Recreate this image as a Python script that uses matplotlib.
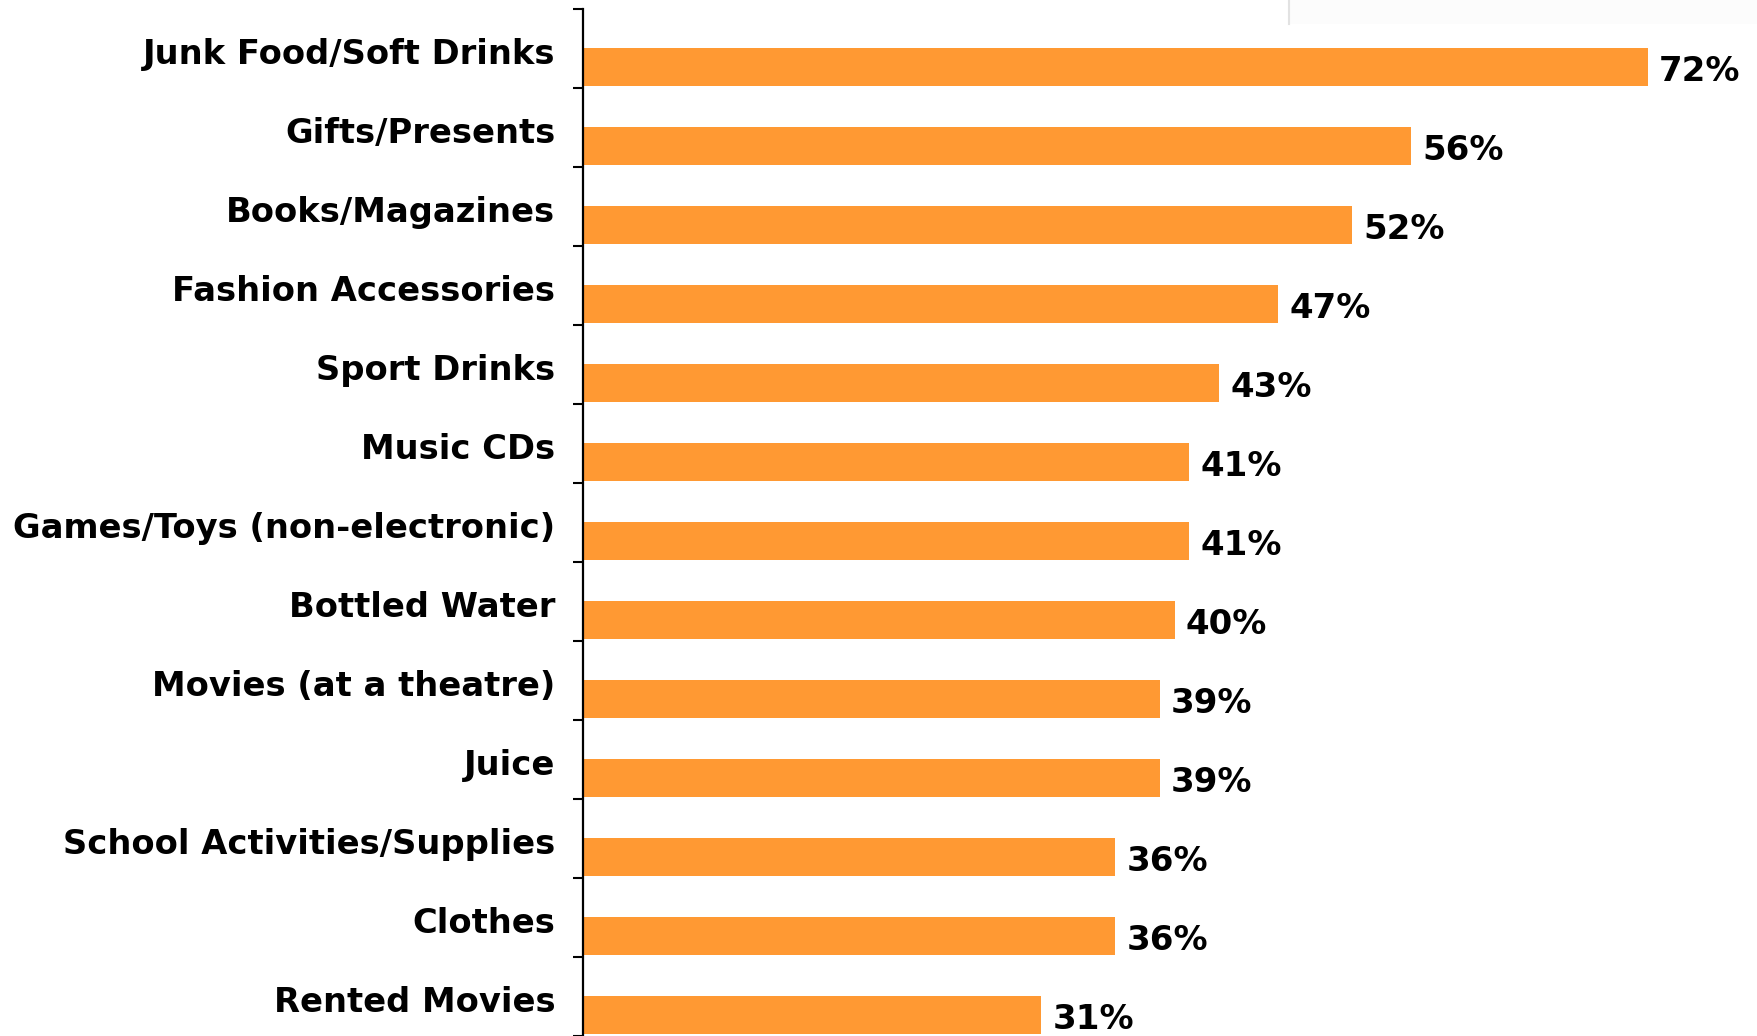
import matplotlib
matplotlib.use("Agg")
import matplotlib.pyplot as plt
from matplotlib.patches import Rectangle
import numpy as np

categories = [
    "Junk Food/Soft Drinks",
    "Gifts/Presents",
    "Books/Magazines",
    "Fashion Accessories",
    "Sport Drinks",
    "Music CDs",
    "Games/Toys (non-electronic)",
    "Bottled Water",
    "Movies (at a theatre)",
    "Juice",
    "School Activities/Supplies",
    "Clothes",
    "Rented Movies",
]
values = [72, 56, 52, 47, 43, 41, 41, 40, 39, 39, 36, 36, 31]
value_labels = [f"{v}%" for v in values]

W, H, DPI = 1758, 1036, 100
fig = plt.figure(figsize=(W / DPI, H / DPI), dpi=DPI)
fig.patch.set_facecolor("white")

# faint legend frame in the upper right corner
fig.patches.append(Rectangle((1289 / W, 1 - 24 / H), (W - 1289) / W, 24 / H,
                             transform=fig.transFigure, facecolor="#fcfcfc",
                             edgecolor="none", zorder=0))
fig.add_artist(plt.Line2D([1289 / W, 1289 / W], [1 - 24 / H, 1.0],
                          transform=fig.transFigure, color="#e2e2e2", lw=1.5))

ax = fig.add_axes([583 / W, 0.0, (W - 583) / W, 1027 / H])
ax.set_facecolor("none")

ypos = np.arange(len(categories))
bar_top = -0.01
bar_h = 0.49
ax.barh(ypos + bar_top + bar_h / 2, values, height=bar_h, color="#FF9933",
        edgecolor="none", zorder=2)

for y, v, lab in zip(ypos, values, value_labels):
    ax.text(v + 0.75, y + 0.29, lab, va="center", ha="left",
            fontsize=24.5, fontweight="bold", color="black",
            family="DejaVu Sans")

px_per_unit = 14.79
ax.set_xlim(0, (W - 583) / px_per_unit)
slot = 79.13
ax.set_ylim(-0.5 + 1027 / slot, -0.5)

ax.set_yticks(ypos + 0.03)
ax.set_yticklabels(categories, fontsize=24.3, fontweight="bold",
                   family="DejaVu Sans")
ax.tick_params(axis="y", which="major", length=0, pad=20)
ax.set_yticks(np.arange(-0.5, len(categories) + 0.5, 1.0), minor=True)
ax.tick_params(axis="y", which="minor", length=7.5, width=1.5,
               direction="out", color="black")
ax.set_xticks([])

for s in ["top", "right", "bottom"]:
    ax.spines[s].set_visible(False)
ax.spines["left"].set_linewidth(1.6)
ax.spines["left"].set_color("black")

fig.savefig("out.png", dpi=DPI, facecolor="white")
